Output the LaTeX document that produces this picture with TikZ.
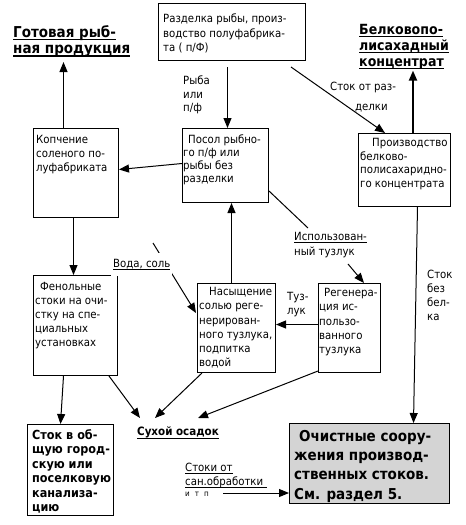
\documentclass[tikz,border=0pt]{standalone}
\usepackage{fontspec}
\setmainfont{DejaVu Sans Condensed}
\usetikzlibrary{arrows.meta}
\newcommand{\uln}[1]{\setbox0=\hbox{#1}\rlap{\rule[-2.2pt]{\wd0}{0.7pt}}\box0}
\newcommand{\ulb}[1]{\setbox0=\hbox{#1}\rlap{\rule[-3pt]{\wd0}{1.1pt}}\box0}
\begin{document}
\begin{tikzpicture}[x=1pt,y=-1pt,
  box/.style={draw, line width=1pt, inner sep=0pt, anchor=north west},
  txt/.style={inner sep=0pt, anchor=north west, align=left, font=\fontsize{11.3}{14}\selectfont},
  head/.style={inner sep=0pt, anchor=north west, align=left},
  arr/.style={line width=1pt, -{Triangle[length=10pt,width=8pt]}},
  arrthick/.style={line width=2pt, -{Triangle[length=10pt,width=8pt]}},
  ln/.style={line width=1pt},
]
\useasboundingbox (0,0) rectangle (466,525);

% boxes
\node[box, minimum width=147pt, minimum height=57pt] (tb) at (158,3) {};
\node[box, minimum width=85pt, minimum height=89pt] (kop) at (33,128) {};
\node[box, minimum width=86pt, minimum height=74pt] (posol) at (182,128) {};
\node[box, minimum width=92pt, minimum height=73pt] (proizv) at (358,133) {};
\node[box, minimum width=84pt, minimum height=100pt] (fenol) at (33,275) {};
\node[box, minimum width=78pt, minimum height=89pt] (nas) at (197,283) {};
\node[box, minimum width=62pt, minimum height=89pt] (regen) at (318,283) {};
\node[box, minimum width=86pt, minimum height=91pt] (stok) at (27,424) {};
\node[box, fill=black!17, minimum width=160pt, minimum height=80pt] (och) at (289,423) {};

% box texts
\node[txt, font=\fontsize{11.3}{14.5}\selectfont] (tbt) at (163,14) {Разделка рыбы, произ-\\водство полуфабрика-\\та ( п/Ф)};
\node[txt] (kopt) at (36,135) {Копчение\\соленого по-\\луфабриката};
\node[txt, font=\fontsize{11.3}{13}\selectfont] (posolt) at (183,135) {\hspace*{5pt}Посол рыбно-\\го п/ф или\\рыбы без\\разделки};
\node[txt, font=\fontsize{11.3}{13.7}\selectfont] (proizvt) at (360,138) {\hspace*{12pt}Производство\\белково-\\полисахаридно-\\го концентрата};
\node[txt] (fenolt) at (35,282) {\hspace*{5pt}Фенольные\\стоки на очи-\\стку на спе-\\циальных\\установках};
\node[txt, font=\fontsize{11.3}{14.3}\selectfont] (nast) at (199,287) {\hspace*{10pt}Насыщение\\солью реге-\\нерирован-\\ного тузлука,\\подпитка\\водой};
\node[txt, font=\fontsize{11.3}{14.3}\selectfont] (regent) at (319,288) {\hspace*{5pt}Регенера-\\ция ис-\\пользо-\\ванного\\тузлука};
\node[head, font=\fontsize{12.5}{14.5}\selectfont\bfseries] (stokt) at (32,429) {Сток в об-\\щую город-\\скую или\\поселковую\\канализа-\\цию};
\node[head, font=\fontsize{15}{19.3}\selectfont\bfseries] (ocht) at (294,430) {\hspace*{5pt}Очистные соору-\\жения производ-\\ственных стоков.\\См. раздел 5.};

% headings
\node[head, font=\fontsize{15}{16.5}\selectfont\bfseries] (gotov) at (13,25) {\ulb{Готовая рыб-}\\\ulb{ная продукция}};
\node[head, font=\fontsize{14}{16}\selectfont\bfseries] (belk) at (359,24) {\ulb{Белковопо-}\\\ulb{лисахадный}\\\ulb{концентрат}};
\node[head, font=\fontsize{11.5}{14}\selectfont\bfseries, anchor=north] (suhoy) at (178,427) {\ulb{Сухой осадок}};

% labels
\node[txt, font=\fontsize{11.3}{13.5}\selectfont] (ryba) at (183,76) {Рыба\\или\\п/ф};
\node[txt] (stokr1) at (330,82) {Сток от раз-};
\node[txt, anchor=base west] (stokr2) at (355,110) {делки};
\node[txt, font=\fontsize{11.3}{15}\selectfont] (isp) at (294,232) {\uln{Использован-}\\ный тузлук};
\node[txt] (tuz) at (287,292) {Туз-\\лук};
\node[txt] (stokbez) at (427,270) {Сток\\без\\бел-\\ка};

% connectors
\draw[arr] ([xshift=-4.5pt,yshift=-6pt]tb.south) -- ([xshift=2pt]posol.north);
\draw[arr] ([xshift=-15pt,yshift=-6pt]tb.south east) -- ([xshift=27pt]proizv.north west);
\coordinate (p1) at ([xshift=55pt]proizv.north west);
\draw[arrthick, shorten >=1pt] (p1) -- (p1 |- belk.south);
\coordinate (k1) at ([xshift=-12.5pt]kop.north);
\draw[arr, shorten >=5pt] (k1) -- (k1 |- gotov.south);
\draw[arr] ([yshift=2pt]posol.west) -- ([yshift=3.5pt]kop.east);
\draw[arr] ([xshift=-2.5pt]kop.south) -- ([xshift=-2pt]fenol.north);
\coordinate (n1) at ([xshift=-5pt]nas.north);
\draw[arr] (n1) -- (n1 |- posol.south);
\draw[ln] ([yshift=12pt]posol.south east) -- ([xshift=14pt,yshift=4pt]isp.north west);
\draw[arr] ([xshift=54pt,yshift=-6pt]isp.south west) -- ([xshift=46pt]regen.north west);
\draw[arr] ([yshift=3.5pt]regen.west) -- ([yshift=3.5pt]nas.east);
\coordinate (v0) at (153,243);
\draw[arr] (v0) -- ([xshift=-1pt,yshift=15pt]nas.west);
\node[txt, fill=white, inner xsep=2pt, inner ysep=6pt] (voda) at (111,253) {\uln{Вода, соль}};
\draw[arr] ([xshift=-9pt]fenol.south east) -- ([xshift=-38pt,yshift=9pt]suhoy.north);
\draw[arr] ([xshift=5pt]nas.south west) -- ([xshift=-23pt,yshift=9pt]suhoy.north);
\draw[arr] ([yshift=2pt]regen.south west) -- ([xshift=20pt,yshift=9pt]suhoy.north);
\draw[arr] ([xshift=-12pt]fenol.south) -- ([xshift=-10pt]stok.north);
\draw[arr] ([xshift=13pt]proizv.south) -- ([xshift=44pt]och.north);

% sanitary label
\node[txt] (sani) at (185,463) {\uln{Стоки от}\\\uln{сан.обработки\hspace*{4pt}}\\[-3pt]{\fontsize{8}{10}\selectfont и\hspace{5pt}т\hspace{5pt}п}};
\coordinate (s0) at (223,493);
\draw[arr] (s0) -- (s0 -| och.west);
\end{tikzpicture}
\end{document}
